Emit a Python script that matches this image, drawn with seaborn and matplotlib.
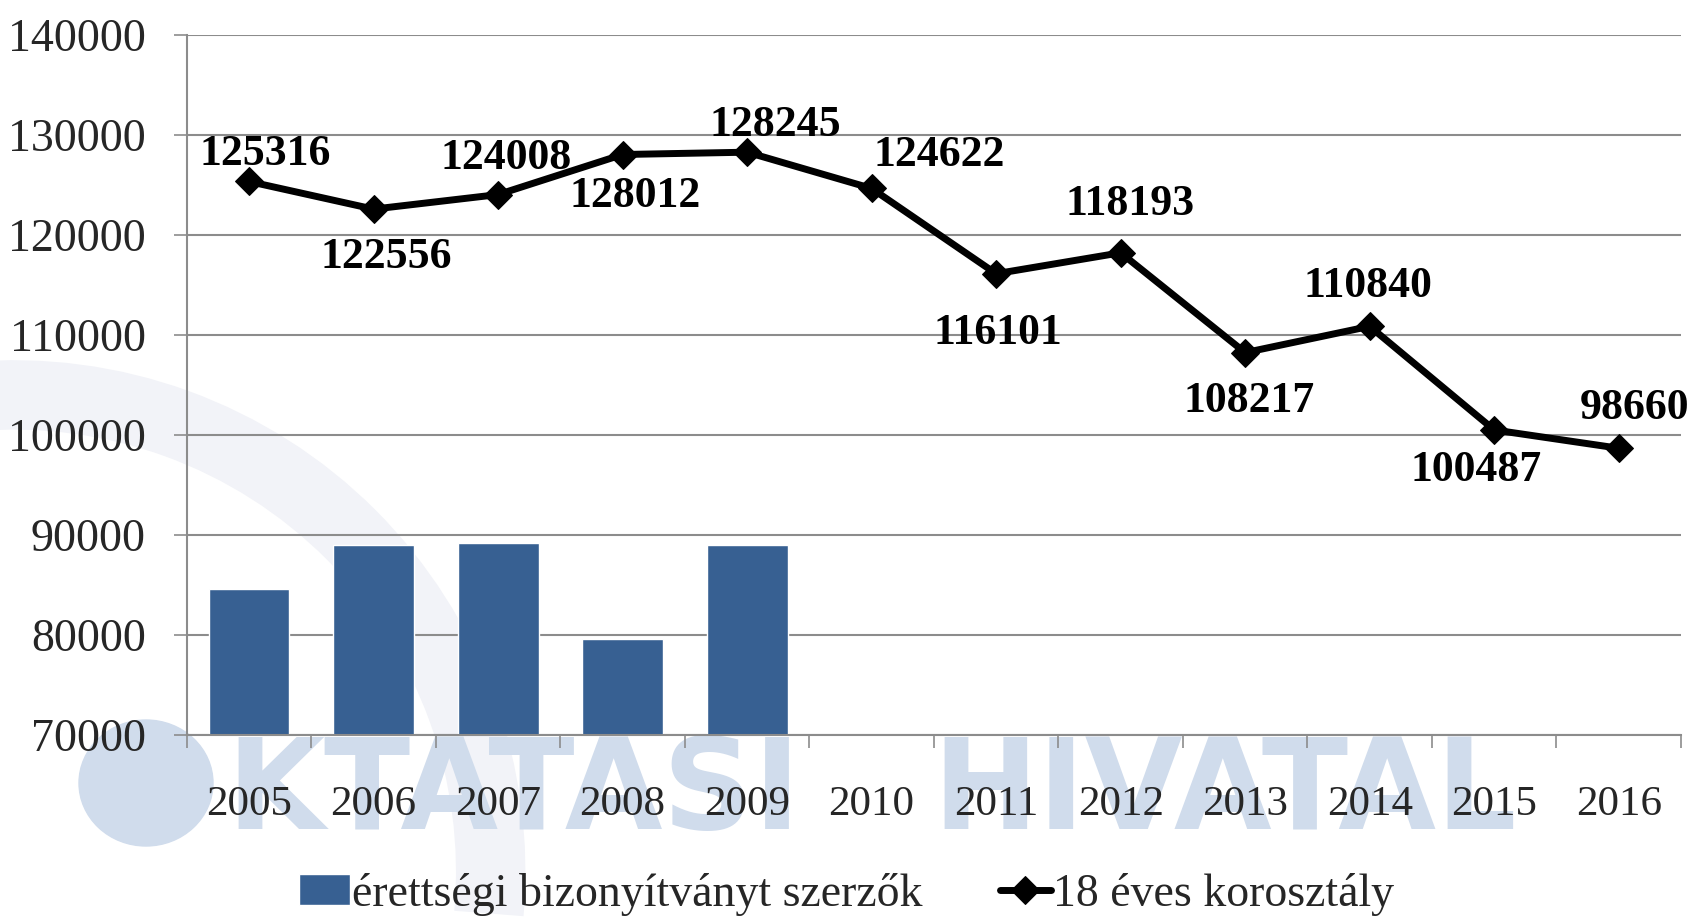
import numpy as np
import pandas as pd
import matplotlib
matplotlib.use('Agg')
import matplotlib.pyplot as plt
from matplotlib.patches import Ellipse, Arc
import seaborn as sns

# data
years = ['2005', '2006', '2007', '2008', '2009', '2010',
         '2011', '2012', '2013', '2014', '2015', '2016']
bar_years = ['2005', '2006', '2007', '2008', '2009']
bar_values = [84600, 89000, 89150, 79600, 89000]
cohort = [125316, 122556, 124008, 128012, 128245, 124622,
          116101, 118193, 108217, 110840, 100487, 98660]
bar_name = 'érettségi bizonyítványt szerzők'
line_name = '18 éves korosztály'

# label offsets (pixels) for the data labels
label_offsets = [(16, 27), (13, -48), (8, 37), (13, -41), (28, 27), (68, 33),
                 (2, -59), (9, 49), (4, -48), (-2, 40), (-18, -40), (16, 40)]

BAR = '#376092'
GRID = '#8c8c8c'
WM = '#d0dcec'
SERIF = 'Liberation Serif'

sns.set_theme(style='white')
plt.rcParams['font.family'] = [SERIF, 'DejaVu Serif']

fig = plt.figure(figsize=(16.93, 9.19), dpi=100)
fig.patch.set_facecolor('white')

# faint "OKTATÁSI HIVATAL" logo watermark behind the chart
swoosh = Arc((0.137, 0.471), 9.54, 9.54, theta1=-5, theta2=95,
             transform=fig.dpi_scale_trans, color='#f2f3f8', lw=50, zorder=-6)
fig.patches.append(swoosh)
circ = Ellipse((146 / 1693, 1 - 783 / 919), 134 / 1693, 126 / 919,
               transform=fig.transFigure, color=WM, zorder=-5)
fig.patches.append(circ)
wm_base = 1 - 829 / 919
fig.text(226 / 1693, wm_base, 'KTATÁSI', family='DejaVu Sans', weight='bold',
         fontsize=91, color=WM, va='baseline', ha='left', zorder=-5)
fig.text(932 / 1693, wm_base, 'HIVATAL', family='DejaVu Sans', weight='bold',
         fontsize=91, color=WM, va='baseline', ha='left', zorder=-5)

ax = fig.add_axes([0.1103, 0.2002, 0.8826, 0.7622])
ax.set_facecolor('none')

bars = pd.DataFrame({'year': bar_years, 'value': bar_values})
sns.barplot(data=bars, x='year', y='value', order=years, color=BAR,
            width=0.65, saturation=1, label=bar_name, ax=ax, zorder=2)

pos = np.arange(len(years))
sns.lineplot(x=pos, y=cohort, color='black', lw=5, marker='D',
             markersize=14, markeredgecolor='black', label=line_name,
             ax=ax, zorder=3)

for i, v in enumerate(cohort):
    dx, dy = label_offsets[i]
    ax.annotate(str(v), (pos[i], v), xytext=(dx, dy), textcoords='offset pixels',
                ha='center', va='center', fontsize=31.5, fontweight='bold',
                family=SERIF, color='black', zorder=4)

ax.set_ylim(70000, 140000)
ax.set_xlim(-0.5, len(years) - 0.5)
ax.set_yticks(np.arange(70000, 140001, 10000))
ax.set_yticklabels([str(t) for t in range(70000, 140001, 10000)])
ax.yaxis.grid(True, color=GRID, lw=1.5, zorder=0)
ax.set_xlabel('')
ax.set_ylabel('')

for side in ['top', 'right']:
    ax.spines[side].set_visible(False)
for side in ['left', 'bottom']:
    ax.spines[side].set_color(GRID)
    ax.spines[side].set_linewidth(1.5)

ax.tick_params(axis='y', length=9.4, width=1.2, color=GRID, pad=20,
               labelsize=33, left=True)
ax.set_xticks(pos)
ax.set_xticklabels(years)
ax.tick_params(axis='x', which='major', length=0, pad=36, labelsize=31)
ax.set_xticks(np.arange(-0.5, len(years)), minor=True)
ax.tick_params(axis='x', which='minor', length=9.4, width=1.2, color=GRID,
               bottom=True)

handles, labels = ax.get_legend_handles_labels()
if ax.get_legend() is not None:
    ax.get_legend().remove()
order = [labels.index(bar_name), labels.index(line_name)]
fig.legend([handles[i] for i in order], [labels[i] for i in order],
           loc='center', bbox_to_anchor=(0.5, 1 - 894 / 919),
           ncol=2, frameon=False, fontsize=33, handlelength=1.1,
           handleheight=0.65, handletextpad=0.05, columnspacing=1.7)

fig.savefig('out.png', dpi=100)
